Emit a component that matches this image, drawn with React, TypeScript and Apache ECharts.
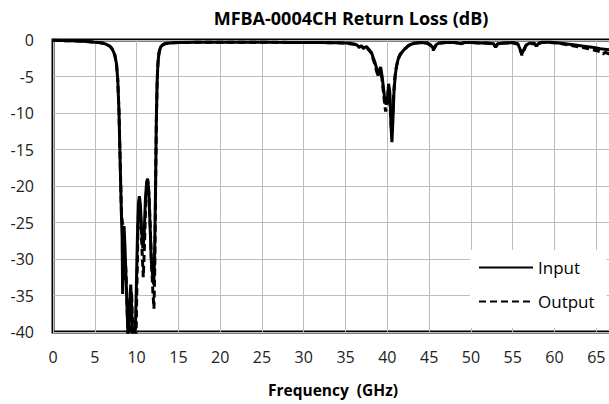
import React, { useEffect, useRef } from "react";
import * as echarts from "echarts";

const titleText = "MFBA-0004CH Return Loss (dB)";
const xAxisName = "Frequency  (GHz)";
const seriesNames = ["Input", "Output"];
const xTickLabels = [0, 5, 10, 15, 20, 25, 30, 35, 40, 45, 50, 55, 60, 65];

const inputPoints: [number, number][] = [
  [0, -0.05], [1, -0.08], [2, -0.1], [3, -0.15], [4, -0.2], [5, -0.3], [5.5, -0.35], [6, -0.45], [6.4, -0.6], [6.8, -0.85],
  [7.0, -1.1], [7.2, -1.5], [7.4, -2.1], [7.6, -3.3], [7.75, -5.5], [7.9, -10], [8.0, -15], [8.1, -20], [8.2, -24.5], [8.27, -27],
  [8.33, -34.8], [8.4, -27], [8.5, -25.5], [8.6, -28], [8.75, -33], [8.9, -38], [9.0, -42], [9.15, -37], [9.3, -33.5], [9.45, -38],
  [9.6, -43], [9.8, -42], [9.95, -35], [10.1, -27], [10.22, -22.5], [10.33, -21.4], [10.45, -22.5], [10.6, -26], [10.75, -28.5], [10.9, -27],
  [11.05, -22], [11.2, -19.5], [11.32, -19], [11.45, -20.5], [11.6, -25], [11.75, -30], [11.9, -32], [12.05, -33.5], [12.15, -30], [12.25, -22],
  [12.35, -12], [12.45, -6], [12.55, -3.2], [12.7, -1.6], [12.9, -0.9], [13.2, -0.6], [13.6, -0.45], [14, -0.4], [15, -0.35], [17, -0.32],
  [20, -0.3], [23, -0.3], [26, -0.32], [29, -0.33], [32, -0.35], [34, -0.38], [35, -0.42], [35.5, -0.45], [36, -0.55], [36.3, -0.65],
  [36.6, -0.95], [36.9, -0.8], [37.2, -1.1], [37.5, -0.9], [37.8, -1.3], [38.1, -1.7], [38.3, -2.4], [38.5, -3.0], [38.7, -3.8], [38.9, -4.9],
  [39.05, -4.1], [39.2, -3.7], [39.35, -4.8], [39.5, -6.2], [39.7, -8.2], [39.85, -8.8], [40.0, -8.3], [40.15, -6.0], [40.3, -7.2], [40.45, -12],
  [40.55, -14], [40.65, -11.5], [40.8, -7], [40.95, -4.8], [41.1, -3.6], [41.3, -2.6], [41.5, -2.0], [41.8, -1.6], [42.1, -1.2], [42.4, -0.9],
  [42.7, -0.65], [43.2, -0.45], [44, -0.35], [44.8, -0.4], [45.2, -0.7], [45.5, -1.2], [45.8, -0.7], [46.2, -0.4], [47, -0.35], [48, -0.35],
  [48.9, -0.5], [49.2, -0.35], [50, -0.35], [51, -0.4], [52, -0.4], [52.7, -0.5], [52.95, -0.95], [53.2, -0.5], [54, -0.4], [55, -0.35],
  [55.6, -0.5], [55.9, -1.3], [56.1, -1.9], [56.3, -1.4], [56.6, -0.7], [57, -0.45], [57.6, -0.45], [57.85, -0.85], [58.1, -0.45], [58.5, -0.3],
  [59.5, -0.3], [60.5, -0.4], [61.5, -0.55], [62.5, -0.7], [63.5, -0.85], [64.5, -1.0], [65.5, -1.2], [66.5, -1.35], [67.5, -1.5],
];

const outputPoints: [number, number][] = [
  [0, -0.05], [1, -0.08], [2, -0.1], [3, -0.15], [4, -0.2], [5, -0.3], [5.5, -0.35], [6, -0.45], [6.4, -0.6], [6.8, -0.85],
  [7.0, -1.1], [7.2, -1.5], [7.4, -2.1], [7.6, -3.3], [7.75, -5.5], [7.9, -10], [8.0, -15], [8.1, -19.5], [8.2, -24], [8.3, -25],
  [8.4, -25.5], [8.5, -28], [8.6, -33], [8.7, -31], [8.8, -34], [8.95, -40], [9.1, -43], [9.25, -37], [9.4, -34.5], [9.55, -40],
  [9.7, -44], [9.9, -43], [10.05, -33], [10.18, -25], [10.3, -22], [10.4, -22.5], [10.55, -26], [10.7, -30], [10.8, -32.5], [10.95, -28],
  [11.1, -22], [11.25, -19.5], [11.35, -19.3], [11.5, -21.5], [11.65, -26], [11.8, -31], [11.95, -34.5], [12.08, -36.8], [12.18, -31], [12.28, -20],
  [12.38, -10], [12.5, -4.5], [12.62, -2.2], [12.8, -1.2], [13.0, -0.75], [13.4, -0.5], [14, -0.4], [15, -0.35], [17, -0.32], [20, -0.3],
  [23, -0.3], [26, -0.32], [29, -0.33], [32, -0.35], [34, -0.38], [35, -0.42], [35.5, -0.5], [36, -0.6], [36.3, -0.75], [36.6, -1.0],
  [36.9, -0.85], [37.2, -1.2], [37.5, -1.0], [37.8, -1.4], [38.1, -1.8], [38.3, -2.6], [38.5, -3.3], [38.7, -4.2], [38.9, -5.0], [39.05, -4.4],
  [39.2, -4.0], [39.35, -5.2], [39.5, -6.8], [39.7, -9.0], [39.8, -9.8], [39.95, -8.6], [40.1, -7.0], [40.25, -7.5], [40.4, -10.5], [40.52, -12.8],
  [40.62, -11], [40.75, -7.5], [40.9, -5.2], [41.05, -3.9], [41.25, -2.8], [41.5, -2.1], [41.8, -1.6], [42.1, -1.2], [42.4, -0.9], [42.7, -0.65],
  [43.2, -0.45], [44, -0.35], [44.8, -0.45], [45.2, -0.8], [45.5, -1.4], [45.8, -0.8], [46.2, -0.45], [47, -0.35], [48, -0.35], [48.9, -0.45],
  [49.2, -0.35], [50, -0.35], [51, -0.4], [52, -0.45], [52.7, -0.55], [52.95, -1.0], [53.2, -0.55], [54, -0.4], [55, -0.4], [55.6, -0.55],
  [55.9, -1.4], [56.1, -2.1], [56.3, -1.5], [56.6, -0.75], [57, -0.5], [57.6, -0.5], [57.85, -0.9], [58.1, -0.5], [58.5, -0.35], [59.5, -0.35],
  [60.5, -0.45], [61.5, -0.65], [62.5, -0.85], [63.5, -1.05], [64.5, -1.3], [65.5, -1.6], [65.8, -1.9], [66.1, -1.7], [66.5, -1.9], [67.5, -2.2],
];

const xMin = 0;
const xMax = 67;
const xStep = 5;
const yMin = -40;
const yMax = 0;
const yStep = 5;

const FONT = "'Open Sans', 'Noto Sans', sans-serif";
const GRID_TOP = 40;
const GRID_HEIGHT = 292;

export default function App() {
  const ref = useRef<HTMLDivElement>(null);
  useEffect(() => {
    if (!ref.current) return;
    const chart = echarts.init(ref.current, undefined, { renderer: "svg" });
    chart.setOption({
      animation: false,
      backgroundColor: "#ffffff",
      textStyle: { fontFamily: FONT },
      title: {
        text: titleText,
        left: 346,
        top: 4,
        textAlign: "center",
        textStyle: { fontFamily: FONT, fontSize: 18, fontWeight: "bold", color: "#000" },
      },
      legend: {
        data: seriesNames,
        orient: "vertical",
        left: 470,
        top: 250,
        padding: [9, 12, 18, 8],
        itemGap: 17,
        itemWidth: 54,
        itemHeight: 14,
        backgroundColor: "#ffffff",
        itemStyle: { opacity: 0 },
        textStyle: { fontFamily: FONT, fontSize: 17, color: "#000" },
      },
      grid: {
        left: 53,
        top: GRID_TOP,
        width: 560,
        height: GRID_HEIGHT,
        show: true,
        borderColor: "#000",
        borderWidth: 3,
        containLabel: false,
        outerBoundsMode: "none",
      },
      xAxis: {
        type: "value",
        min: xMin,
        max: xMax,
        interval: xStep,
        name: xAxisName,
        nameLocation: "middle",
        nameGap: 50,
        nameMoveOverlap: false,
        nameTextStyle: { fontFamily: FONT, fontSize: 15.5, fontWeight: "bold", color: "#000" },
        axisLine: { show: false },
        axisTick: { show: false },
        axisLabel: { show: false },
        splitLine: { show: true, lineStyle: { color: "#bdbdbd", width: 1 } },
      },
      yAxis: {
        type: "value",
        min: yMin,
        max: yMax,
        interval: yStep,
        axisLine: { show: false },
        axisTick: { show: false },
        axisLabel: { fontFamily: FONT, fontSize: 16, color: "#222", margin: 19 },
        splitLine: { show: true, lineStyle: { color: "#bdbdbd", width: 1 } },
      },
      series: [
        {
          name: seriesNames[0],
          type: "line",
          data: inputPoints,
          showSymbol: false,
          symbol: "none",
          clip: true,
          z: 3,
          lineStyle: { color: "#000", width: 3, type: "solid" },
          itemStyle: { color: "#000" },
        },
        {
          name: seriesNames[1],
          type: "line",
          data: outputPoints,
          showSymbol: false,
          symbol: "none",
          clip: true,
          z: 2,
          lineStyle: { color: "#000", width: 3, type: [7, 4] },
          itemStyle: { color: "#000" },
        },
      ],
    });
    const labelTop = GRID_TOP + GRID_HEIGHT + 17;
    chart.setOption({
      graphic: xTickLabels.map((v) => ({
        type: "text",
        x: chart.convertToPixel({ xAxisIndex: 0 }, v) as number,
        y: labelTop,
        silent: true,
        style: {
          text: String(v),
          align: "center",
          verticalAlign: "top",
          textAlign: "center",
          textVerticalAlign: "top",
          fontFamily: FONT,
          fontSize: 16,
          fill: "#222",
        },
      })),
    });
    return () => chart.dispose();
  }, []);
  return (
    <div
      ref={ref}
      style={{ position: "fixed", left: 0, top: 0, width: 609, height: 404, background: "#fff" }}
    />
  );
}
